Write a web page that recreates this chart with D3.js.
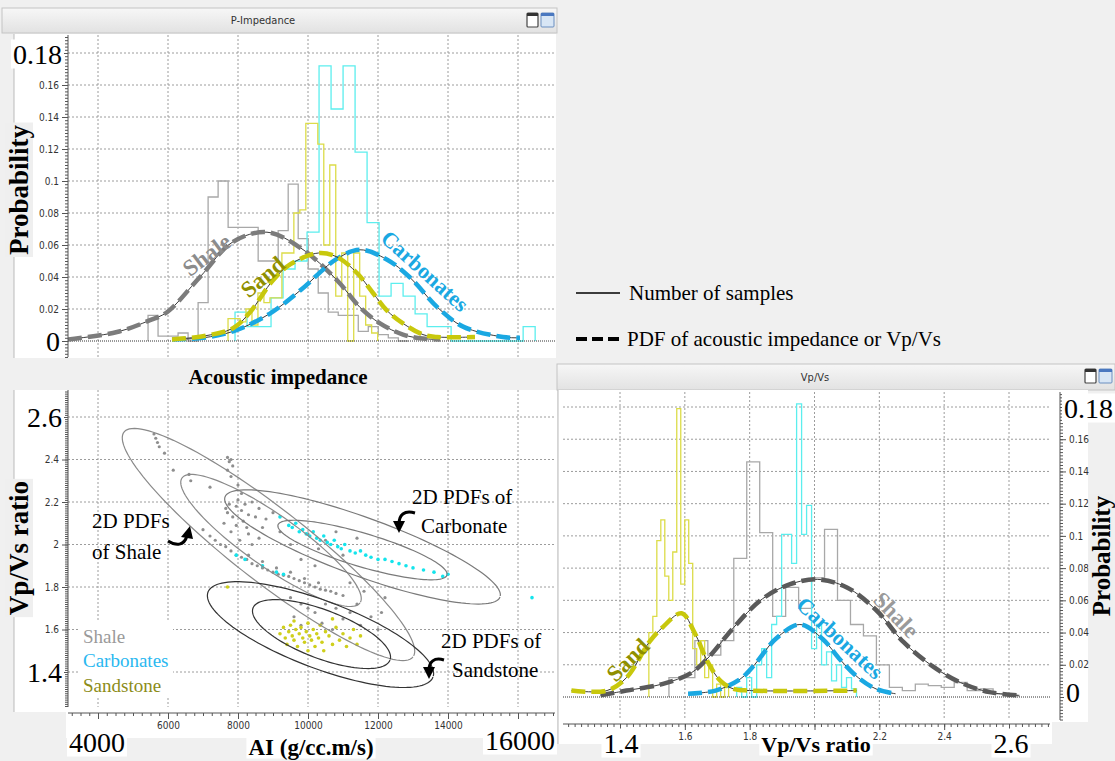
<!DOCTYPE html>
<html>
<head>
<meta charset="utf-8">
<script src="https://cdn.jsdelivr.net/npm/d3@7"></script>
<style>
  body { margin: 0; background: #f0f0f0; }
  svg { display: block; }
</style>
</head>
<body>
<svg id="chart" width="1115" height="761"></svg>
<script>
// ---------- data ----------
const aiGrid = [4000, 6000, 8000, 10000, 12000, 14000, 16000];
const aiTickLabels = [6000, 8000, 10000, 12000, 14000];
const probGrid = [0.02, 0.04, 0.06, 0.08, 0.1, 0.12, 0.14, 0.16, 0.18];
const probTickLabels = [0.02, 0.04, 0.06, 0.08, 0.1, 0.12, 0.14, 0.16];
const ratioGrid = [1.4, 1.6, 1.8, 2.0, 2.2, 2.4, 2.6];
const ratioTickLabels = [1.6, 1.8, 2, 2.2, 2.4];
const vpvsTickLabels = [1.6, 1.8, 2.2, 2.4];

// AI histograms (shale, sand, carbonate): first bin edge, bin width, probability per bin
const aiBinStart = [5430, 7715, 7915];
const aiBinWidth = [286, 171, 343];
const shaleAiProb = [0.016, 0.003, 0.003, 0.005, 0.0, 0.024, 0.09, 0.1, 0.071, 0.071, 0.071, 0.05, 0.05,
  0.069, 0.098, 0.064, 0.045, 0.03, 0.018, 0.016, 0.016, 0.006, 0.009, 0.004, 0.002, 0.0];
const sandAiProb = [0.014, 0.014, 0.012, 0.02, 0.01, 0.03, 0.024, 0.027, 0.027, 0.055, 0.055, 0.08, 0.082,
  0.136, 0.136, 0.123, 0.06, 0.11, 0.028, 0.055, 0.0, 0.055, 0.028, 0.01, 0.005];
const carbAiProb = [0.018, 0.009, 0.009, 0.027, 0.045, 0.05, 0.068, 0.172, 0.145, 0.172, 0.118, 0.074, 0.028,
  0.036, 0.028, 0.017, 0.009, 0.009, 0, 0, 0, 0, 0, 0, 0.009];

// AI PDFs: [AI, probability]
const shaleAiPdf = [[3143, 0.001], [4543, 0.0056], [5486, 0.013], [5971, 0.018], [6914, 0.04], [7857, 0.062],
  [8829, 0.068], [9800, 0.058], [10829, 0.038], [11486, 0.021], [12057, 0.011], [12714, 0.004], [13286, 0.0015], [13771, 0.001]];
const sandAiPdf = [[6114, 0.001], [7000, 0.003], [7857, 0.008], [8343, 0.018], [9000, 0.038], [9500, 0.048],
  [10300, 0.055], [10829, 0.0525], [11400, 0.0425], [11857, 0.03], [12257, 0.019], [12714, 0.011], [13286, 0.004],
  [13686, 0.0025], [14771, 0.0025]];
const carbAiPdf = [[6114, 0.001], [7000, 0.002], [7857, 0.006], [8900, 0.017], [9800, 0.032], [10800, 0.051],
  [11486, 0.057], [12250, 0.051], [12900, 0.04], [13700, 0.021], [14430, 0.009], [15570, 0.0025], [16057, 0.002]];

// Vp/Vs histograms (shale, sand, carbonate)
const vpvsBinStart = [1.551, 1.489, 1.76];
const vpvsBinWidth = [0.04, 0.0123, 0.0154];
const shaleVpvsProb = [0.012, 0.012, 0.035, 0.026, 0.035, 0.086, 0.146, 0.102, 0.05, 0.068, 0.055, 0.074, 0.104,
  0.06, 0.045, 0.038, 0.02, 0.006, 0.004, 0.008, 0.007, 0.006, 0.009, 0.004, 0.005, 0.002, 0.001];
const sandVpvsProb = [0.04, 0.05, 0.097, 0.11, 0.075, 0.06, 0.09, 0.179, 0.07, 0.11, 0.083, 0.03, 0.02, 0.035,
  0.012, 0.02, 0.0, 0.008, 0.0, 0.006];
const carbVpvsProb = [0.006, 0.0, 0.012, 0.0, 0.02, 0.03, 0.012, 0.045, 0.05, 0.101, 0.101, 0.083, 0.182, 0.101,
  0.119, 0.03, 0.045, 0.02, 0.028, 0.01, 0.02, 0.006, 0.012, 0.005];

// Vp/Vs PDFs
const shaleVpvsPdf = [[1.34, 0.001], [1.42, 0.004], [1.53, 0.008], [1.62, 0.015], [1.675, 0.025], [1.75, 0.043],
  [1.84, 0.061], [1.925, 0.07], [2.01, 0.073], [2.1, 0.068], [2.19, 0.054], [2.275, 0.034], [2.365, 0.019],
  [2.45, 0.009], [2.54, 0.003], [2.63, 0.001]];
const sandVpvsPdf = [[1.25, 0.004], [1.36, 0.004], [1.42, 0.012], [1.49, 0.034], [1.53, 0.043], [1.59, 0.052],
  [1.63, 0.04], [1.67, 0.022], [1.71, 0.01], [1.75, 0.005], [1.8, 0.004], [2.13, 0.004]];
const carbVpvsPdf = [[1.61, 0.002], [1.695, 0.004], [1.77, 0.011], [1.815, 0.02], [1.88, 0.036], [1.955, 0.045],
  [2.025, 0.036], [2.08, 0.023], [2.135, 0.012], [2.19, 0.005], [2.25, 0.002]];

// cross-plot samples [AI, Vp/Vs]
const shalePoints = [[5600, 2.52], [5650, 2.5], [5700, 2.48], [5750, 2.46], [5900, 2.43], [6150, 2.35], [6600, 2.33],
  [6650, 2.3], [7200, 2.27], [7700, 2.41], [7750, 2.39], [7800, 2.4], [7850, 2.37], [7700, 2.35], [7800, 2.32],
  [8000, 2.28], [8100, 2.24], [7650, 2.17], [7700, 2.15], [7750, 2.19], [7850, 2.13], [7950, 2.18], [8000, 2.21],
  [8100, 2.16], [8150, 2.11], [8200, 2.19], [8300, 2.14], [8400, 2.2], [8500, 2.13], [8600, 2.17], [8700, 2.08],
  [8300, 2.05], [7800, 2.06], [7950, 2.09], [8050, 2.02], [8400, 2.0], [8800, 2.12], [9000, 2.15], [9200, 2.06],
  [7600, 2.1], [8250, 2.08], [8600, 2.03], [7000, 2.07], [7200, 2.04], [7350, 2.02], [7500, 2.0], [7650, 1.99],
  [7800, 1.97], [7950, 1.95], [8100, 1.94], [8250, 1.93], [8400, 1.91], [8550, 1.9], [8700, 1.89], [8850, 1.88],
  [9000, 1.87], [9150, 1.86], [9300, 1.855], [9450, 1.85], [9600, 1.84], [9750, 1.83], [9900, 1.82], [10050, 1.81],
  [10200, 1.8], [10350, 1.79], [10500, 1.785], [10650, 1.78], [10800, 1.77], [11000, 1.76], [8300, 1.95],
  [8700, 1.92], [9100, 1.89], [9500, 1.87], [9900, 1.84], [10300, 1.82], [9500, 2.0], [10000, 2.05], [10300, 1.98],
  [10500, 2.02], [10800, 2.06], [11000, 1.95], [9800, 1.93], [10200, 1.9], [11400, 2.03], [9500, 1.75],
  [9800, 1.72], [10000, 1.7], [10200, 1.68], [10500, 1.72], [10800, 1.7], [11000, 1.65], [11200, 1.68],
  [11500, 1.62], [11800, 1.66], [12000, 1.6], [12200, 1.75], [11200, 1.82], [11600, 1.78], [9800, 1.62],
  [9600, 1.66], [10400, 1.63], [10700, 1.6], [11400, 1.72], [12100, 1.68]];
const carbPoints = [[7950, 1.95], [8200, 1.93], [8700, 1.9], [9100, 1.87], [9300, 1.86], [9200, 2.13], [9450, 2.09],
  [9550, 2.08], [9650, 2.1], [9750, 2.06], [9850, 2.07], [9950, 2.05], [10050, 2.04], [10150, 2.06], [10250, 2.03],
  [10350, 2.02], [10450, 2.04], [10550, 2.01], [10650, 2.0], [10750, 2.02], [10850, 1.99], [10950, 1.98],
  [11050, 2.0], [11200, 1.97], [11350, 1.96], [11500, 1.97], [11650, 1.95], [11800, 1.94], [12000, 1.93],
  [12200, 1.93], [12400, 1.92], [12600, 1.91], [12800, 1.9], [13000, 1.89], [13300, 1.88], [13600, 1.87],
  [13850, 1.85], [14000, 1.86], [16400, 1.75]];
const sandPoints = [[7700, 1.8], [9300, 1.61], [9350, 1.56], [9400, 1.53], [9450, 1.59], [9500, 1.62], [9550, 1.57],
  [9600, 1.55], [9650, 1.6], [9700, 1.52], [9750, 1.58], [9800, 1.61], [9850, 1.56], [9900, 1.54], [9950, 1.59],
  [10000, 1.63], [10050, 1.57], [10100, 1.55], [10150, 1.6], [10200, 1.52], [10250, 1.58], [10300, 1.56],
  [10350, 1.62], [10400, 1.54], [10450, 1.5], [10500, 1.59], [10600, 1.57], [10700, 1.53], [10800, 1.61],
  [10900, 1.55], [11000, 1.58], [11100, 1.52], [11200, 1.56], [11300, 1.6], [11400, 1.53], [11500, 1.57],
  [10000, 1.5], [9600, 1.64], [10700, 1.65], [9200, 1.58]];

// 2D PDF contours: two end points [AI, Vp/Vs] and width / length ratio
const shaleEllipses = [[[4743, 2.529], [13000, 1.471], 0.2], [[6400, 2.313], [11486, 1.725], 0.24]];
const carbEllipses = [[[7629, 2.224], [15486, 1.753], 0.2], [[9143, 2.092], [13971, 1.856], 0.19]];
const sandEllipses = [[[7143, 1.776], [13571, 1.376], 0.28], [[8429, 1.701], [12343, 1.456], 0.33]];

// ---------- drawing ----------
const SERIF = "'Liberation Serif', 'Times New Roman', serif";
const SANS = "'DejaVu Sans Condensed', 'DejaVu Sans', sans-serif";
const C_SHALE_H = '#a8a8a8', C_SAND_H = '#dcdc48', C_CARB_H = '#5ceeee';
const C_SAND = '#c8c80c', C_CARB = '#1aa8e2';

const svg = d3.select('#chart');
svg.append('rect').attr('width', 1115).attr('height', 761).attr('fill', '#f0f0f0');

const defs = svg.append('defs');
const grad = defs.append('linearGradient').attr('id', 'bar').attr('x1', 0).attr('y1', 0).attr('x2', 0).attr('y2', 1);
grad.append('stop').attr('offset', '0%').attr('stop-color', '#f7f7f7');
grad.append('stop').attr('offset', '100%').attr('stop-color', '#e2e2e2');
function clip(id, x, y, w, h) {
  defs.append('clipPath').attr('id', id).append('rect').attr('x', x).attr('y', y).attr('width', w).attr('height', h);
}
clip('clipTop', 68, 35, 487, 322);
clip('clipXp', 68, 390, 487, 317);
clip('clipRight', 563, 392, 487, 328);

const xAI = d3.scaleLinear().domain([4000, 16000]).range([98, 518]);
const yTop = d3.scaleLinear().domain([0, 0.18]).range([341, 53]);
const yRatio = d3.scaleLinear().domain([1.4, 2.6]).range([672, 417]);
const xV = d3.scaleLinear().domain([1.4, 2.6]).range([620, 1009]);
const yRight = d3.scaleLinear().domain([0, 0.18]).range([697, 407]);

function titleBar(x0, x1, y0, y1, title, tx) {
  svg.append('rect').attr('x', x0).attr('y', y0).attr('width', x1 - x0).attr('height', y1 - y0)
    .attr('fill', 'url(#bar)').attr('stroke', '#c4c4c4');
  svg.append('text').attr('x', tx).attr('y', (y0 + y1) / 2).attr('dominant-baseline', 'central')
    .attr('text-anchor', 'middle').attr('font-family', SANS).attr('font-size', 11).attr('fill', '#333').text(title);
  const ix = x1 - 30, iy = y0 + 5;
  svg.append('rect').attr('x', ix).attr('y', iy).attr('width', 11).attr('height', 14).attr('fill', '#fff')
    .attr('stroke', '#444').attr('stroke-width', 1.2).attr('rx', 1);
  svg.append('rect').attr('x', ix).attr('y', iy).attr('width', 11).attr('height', 3).attr('fill', '#333');
  svg.append('rect').attr('x', ix + 14).attr('y', iy).attr('width', 13).attr('height', 14).attr('fill', '#d8e6f5')
    .attr('stroke', '#6a8fc0').attr('rx', 1);
  svg.append('rect').attr('x', ix + 14).attr('y', iy).attr('width', 13).attr('height', 3).attr('fill', '#4a78c0');
}

function grid(xs, ys, xs0, xs1, ys0, ys1, xScale, yScale) {
  const g = svg.append('g').attr('stroke', '#9c9c9c').attr('stroke-dasharray', '2,2').attr('stroke-width', 1);
  g.selectAll('.gx').data(xs).join('line').attr('x1', d => xScale(d)).attr('x2', d => xScale(d))
    .attr('y1', ys0).attr('y2', ys1);
  g.selectAll('.gy').data(ys).join('line').attr('y1', d => yScale(d)).attr('y2', d => yScale(d))
    .attr('x1', xs0).attr('x2', xs1);
}

function stepPoints(start, width, probs) {
  const pts = [[start, 0]];
  probs.forEach((p, i) => { pts.push([start + i * width, p]); pts.push([start + (i + 1) * width, p]); });
  pts.push([start + probs.length * width, 0]);
  return pts;
}

function hist(g, xs, ys, start, width, probs, color) {
  const line = d3.line().x(d => xs(d[0])).y(d => ys(d[1]));
  g.append('path').attr('d', line(stepPoints(start, width, probs))).attr('fill', 'none')
    .attr('stroke', color).attr('stroke-width', 1.3);
}

function pdf(g, xs, ys, pts, color) {
  const line = d3.line().x(d => xs(d[0])).y(d => ys(d[1])).curve(d3.curveCatmullRom);
  g.append('path').attr('d', line(pts)).attr('fill', 'none').attr('stroke', '#3a3a3a').attr('stroke-width', 1);
  g.append('path').attr('d', line(pts)).attr('fill', 'none').attr('stroke', color).attr('stroke-width', 4.5)
    .attr('stroke-dasharray', '14,6');
}

function text(g, str, x, y, o) {
  const t = g.append('text').attr('x', x).attr('y', y).text(str)
    .attr('font-family', o.family || SERIF).attr('font-size', o.size)
    .attr('font-weight', o.weight || 'normal').attr('text-anchor', o.anchor || 'start')
    .attr('dominant-baseline', 'central').attr('fill', o.fill || '#000');
  if (o.rotate) t.attr('transform', `rotate(${o.rotate},${x},${y})`);
  if (o.bg) {
    const b = t.node().getBBox();
    g.insert('rect', () => t.node()).attr('x', b.x - 2).attr('y', b.y + 1).attr('width', b.width + 4)
      .attr('height', b.height - 2).attr('fill', o.bg)
      .attr('transform', o.rotate ? `rotate(${o.rotate},${x},${y})` : null);
  }
  return t;
}

function styleAxis(g) {
  g.select('.domain').remove();
  g.selectAll('line').attr('stroke', '#555');
  g.selectAll('text').attr('font-family', SANS).attr('font-size', 10).attr('fill', '#333');
}

function ruler(orient, scale, pos, minor, major, labels, span) {
  const mk = orient === 'left' ? d3.axisLeft : orient === 'right' ? d3.axisRight : d3.axisBottom;
  const tr = orient === 'bottom' ? `translate(0,${pos})` : `translate(${pos},0)`;
  svg.append('g').attr('transform', tr).call(mk(scale).tickValues(minor).tickSize(3).tickFormat('')).call(styleAxis);
  svg.append('g').attr('transform', tr)
    .call(mk(scale).tickValues(major).tickSize(6).tickPadding(3)
      .tickFormat(d => labels.some(v => Math.abs(v - d) < 1e-9) ? d3.format('~g')(d) : ''))
    .call(styleAxis);
  const l = svg.append('line').attr('stroke', '#555');
  if (orient === 'bottom') l.attr('x1', span[0]).attr('x2', span[1]).attr('y1', pos).attr('y2', pos);
  else l.attr('y1', span[0]).attr('y2', span[1]).attr('x1', pos).attr('x2', pos);
}

// ===== top-left: P-Impedance histogram =====
titleBar(2, 557, 8, 33, 'P-Impedance', 263);
svg.append('rect').attr('x', 14).attr('y', 34).attr('width', 542).attr('height', 324).attr('fill', '#fff');
svg.append('line').attr('x1', 14).attr('x2', 14).attr('y1', 34).attr('y2', 358).attr('stroke', '#bbb');
grid(aiGrid, probGrid, 68, 555, 35, 357, xAI, yTop);
const gTop = svg.append('g').attr('clip-path', 'url(#clipTop)');
hist(gTop, xAI, yTop, aiBinStart[0], aiBinWidth[0], shaleAiProb, C_SHALE_H);
hist(gTop, xAI, yTop, aiBinStart[2], aiBinWidth[2], carbAiProb, C_CARB_H);
hist(gTop, xAI, yTop, aiBinStart[1], aiBinWidth[1], sandAiProb, C_SAND_H);
gTop.append('line').attr('x1', 68).attr('x2', 555).attr('y1', yTop(0)).attr('y2', yTop(0))
  .attr('stroke', '#333').attr('stroke-width', 1).attr('stroke-dasharray', '1,1');
pdf(gTop, xAI, yTop, shaleAiPdf, '#7c7c7c');
pdf(gTop, xAI, yTop, carbAiPdf, C_CARB);
pdf(gTop, xAI, yTop, sandAiPdf, C_SAND);
text(svg, 'Shale', 207, 255, { size: 23, weight: 'bold', fill: '#8c8c8c', anchor: 'middle', rotate: -37 });
text(svg, 'Sand', 263, 277, { size: 23, weight: 'bold', fill: '#8f8f00', anchor: 'middle', rotate: -40 });
text(svg, 'Carbonates', 425, 271, { size: 22, weight: 'bold', fill: C_CARB, anchor: 'middle', rotate: 42 });
ruler('left', yTop, 68, d3.range(-0.01, 0.192, 0.002), probTickLabels.concat([0, 0.18]), probTickLabels, [35, 357]);
text(svg, '0.18', 62, 54, { size: 28, anchor: 'end', bg: '#fff' });
text(svg, '0', 60, 341, { size: 28, anchor: 'end', bg: '#fff' });
text(svg, 'Probability', 19, 190, { size: 27, weight: 'bold', anchor: 'middle', rotate: -90, bg: '#efefef' });
text(svg, 'Acoustic impedance', 278, 377, { size: 21, weight: 'bold', anchor: 'middle' });

// ===== legend =====
svg.append('line').attr('x1', 576).attr('x2', 620).attr('y1', 293).attr('y2', 293).attr('stroke', '#000').attr('stroke-width', 1.5);
text(svg, 'Number of samples', 629, 293, { size: 21 });
svg.append('line').attr('x1', 576).attr('x2', 620).attr('y1', 339).attr('y2', 339).attr('stroke', '#000')
  .attr('stroke-width', 4).attr('stroke-dasharray', '11,5');
text(svg, 'PDF of acoustic  impedance or Vp/Vs', 627, 339, { size: 21 });

// ===== bottom-left: AI vs Vp/Vs cross-plot =====
svg.append('rect').attr('x', 14).attr('y', 390).attr('width', 543).attr('height', 322).attr('fill', '#fff');
svg.append('rect').attr('x', 66).attr('y', 712).attr('width', 491).attr('height', 26).attr('fill', '#fff');
svg.append('line').attr('x1', 14).attr('x2', 14).attr('y1', 390).attr('y2', 712).attr('stroke', '#bbb');
grid(aiGrid, ratioGrid, 68, 555, 390, 707, xAI, yRatio);
svg.append('rect').attr('x', 78).attr('y', 622).attr('width', 95).attr('height', 76).attr('fill', '#fff');
const gXp = svg.append('g').attr('clip-path', 'url(#clipXp)');
function dots(pts, color, r) {
  gXp.append('g').selectAll('circle').data(pts).join('circle')
    .attr('cx', d => xAI(d[0])).attr('cy', d => yRatio(d[1])).attr('r', r).attr('fill', color);
}
dots(shalePoints, '#8e8e8e', 1.6);
dots(carbPoints, '#14e4ec', 1.8);
dots(sandPoints, '#cfcf1c', 1.8);
function ellipse(e, color) {
  const p1 = [xAI(e[0][0]), yRatio(e[0][1])], p2 = [xAI(e[1][0]), yRatio(e[1][1])];
  const cx = (p1[0] + p2[0]) / 2, cy = (p1[1] + p2[1]) / 2;
  const a = Math.hypot(p2[0] - p1[0], p2[1] - p1[1]) / 2, b = a * e[2];
  const th = Math.atan2(p2[1] - p1[1], p2[0] - p1[0]);
  const pts = d3.range(0, 2 * Math.PI + 0.01, 0.05).map(t => [
    cx + a * Math.cos(t) * Math.cos(th) - b * Math.sin(t) * Math.sin(th),
    cy + a * Math.cos(t) * Math.sin(th) + b * Math.sin(t) * Math.cos(th)]);
  gXp.append('path').attr('d', d3.line()(pts)).attr('fill', 'none').attr('stroke', color).attr('stroke-width', 1.2);
}
shaleEllipses.forEach(e => ellipse(e, '#8a8a8a'));
carbEllipses.forEach(e => ellipse(e, '#7a7a7a'));
sandEllipses.forEach(e => ellipse(e, '#333'));

const ann = svg.append('g');
text(ann, '2D PDFs', 92, 521, { size: 21 });
text(ann, 'of Shale', 92, 552, { size: 21 });
text(ann, '2D PDFs of', 412, 497, { size: 21 });
text(ann, 'Carbonate', 421, 526, { size: 21 });
text(ann, '2D PDFs of', 441, 641, { size: 21 });
text(ann, 'Sandstone', 452, 670, { size: 21 });
function arrow(d, head) {
  ann.append('path').attr('d', d).attr('fill', 'none').attr('stroke', '#000').attr('stroke-width', 3);
  ann.append('path').attr('d', head).attr('fill', '#000');
}
arrow('M168,541 C176,546 184,546 187,536', 'M181,537 L190,526 L193,539 Z');
arrow('M415,513 C404,510 399,515 399,524', 'M393,521 L399,533 L405,521 Z');
arrow('M444,660 C434,657 429,662 429,670', 'M423,667 L429,679 L435,667 Z');

text(svg, 'Shale', 83, 636, { size: 19, fill: '#9a9a9a' });
text(svg, 'Carbonates', 83, 660, { size: 19, fill: '#2ab8f0' });
text(svg, 'Sandstone', 83, 685, { size: 19, fill: '#8c8c18' });

ruler('left', yRatio, 68, d3.range(1.24, 2.73, 0.01), ratioTickLabels.concat([1.4, 2.6]), ratioTickLabels.filter(v => v !== 2.6), [390, 707]);
ruler('bottom', xAI, 713, d3.range(3250, 17001, 250), aiGrid, aiTickLabels, [68, 555]);
text(svg, '2.6', 62, 417, { size: 28, anchor: 'end', bg: '#fff' });
text(svg, '1.4', 62, 672, { size: 28, anchor: 'end', bg: '#fff' });
text(svg, 'Vp/Vs  ratio', 19, 548, { size: 27, weight: 'bold', anchor: 'middle', rotate: -90, bg: '#efefef' });
text(svg, '4000', 97, 742, { size: 28, anchor: 'middle', bg: '#fff' });
text(svg, '16000', 520, 740, { size: 28, anchor: 'middle', bg: '#fff' });
text(svg, 'AI (g/cc.m/s)', 311, 747, { size: 23, weight: 'bold', anchor: 'middle', bg: '#fff' });

// ===== bottom-right: Vp/Vs histogram =====
titleBar(557, 1115, 364, 390, 'Vp/Vs', 815);
svg.append('rect').attr('x', 558).attr('y', 390).attr('width', 530).attr('height', 332).attr('fill', '#fff');
svg.append('rect').attr('x', 558).attr('y', 722).attr('width', 494).attr('height', 22).attr('fill', '#fff');
svg.append('line').attr('x1', 558).attr('x2', 558).attr('y1', 390).attr('y2', 744).attr('stroke', '#bbb');
grid(ratioGrid, probGrid, 563, 1050, 392, 720, xV, yRight);
const gR = svg.append('g').attr('clip-path', 'url(#clipRight)');
hist(gR, xV, yRight, vpvsBinStart[0], vpvsBinWidth[0], shaleVpvsProb, C_SHALE_H);
hist(gR, xV, yRight, vpvsBinStart[1], vpvsBinWidth[1], sandVpvsProb, C_SAND_H);
hist(gR, xV, yRight, vpvsBinStart[2], vpvsBinWidth[2], carbVpvsProb, C_CARB_H);
gR.append('line').attr('x1', 563).attr('x2', 1050).attr('y1', yRight(0)).attr('y2', yRight(0))
  .attr('stroke', '#333').attr('stroke-width', 1).attr('stroke-dasharray', '1,1');
pdf(gR, xV, yRight, shaleVpvsPdf, '#5a5a5a');
pdf(gR, xV, yRight, carbVpvsPdf, C_CARB);
pdf(gR, xV, yRight, sandVpvsPdf, C_SAND);
text(svg, 'Sand', 628, 660, { size: 23, weight: 'bold', fill: '#8f8f00', anchor: 'middle', rotate: -45 });
text(svg, 'Carbonates', 840, 638, { size: 22, weight: 'bold', fill: C_CARB, anchor: 'middle', rotate: 43 });
text(svg, 'Shale', 896, 615, { size: 23, weight: 'bold', fill: '#9a9a9a', anchor: 'middle', rotate: 46 });
ruler('right', yRight, 1060, d3.range(-0.014, 0.19, 0.002), probTickLabels.concat([0, 0.18]), probTickLabels, [392, 720]);
ruler('bottom', xV, 724, d3.range(1.24, 2.73, 0.02), ratioGrid, vpvsTickLabels, [563, 1050]);
text(svg, '0.18', 1064, 408, { size: 28, bg: '#fff' });
text(svg, '0', 1066, 692, { size: 28, bg: '#fff' });
text(svg, 'Probability', 1101, 556, { size: 25, weight: 'bold', anchor: 'middle', rotate: -90, bg: '#efefef' });
text(svg, '1.4', 621, 743, { size: 28, anchor: 'middle', bg: '#fff' });
text(svg, '2.6', 1011, 743, { size: 28, anchor: 'middle', bg: '#fff' });
text(svg, 'Vp/Vs ratio', 816, 744, { size: 22, weight: 'bold', anchor: 'middle', bg: '#fff' });
</script>
</body>
</html>
